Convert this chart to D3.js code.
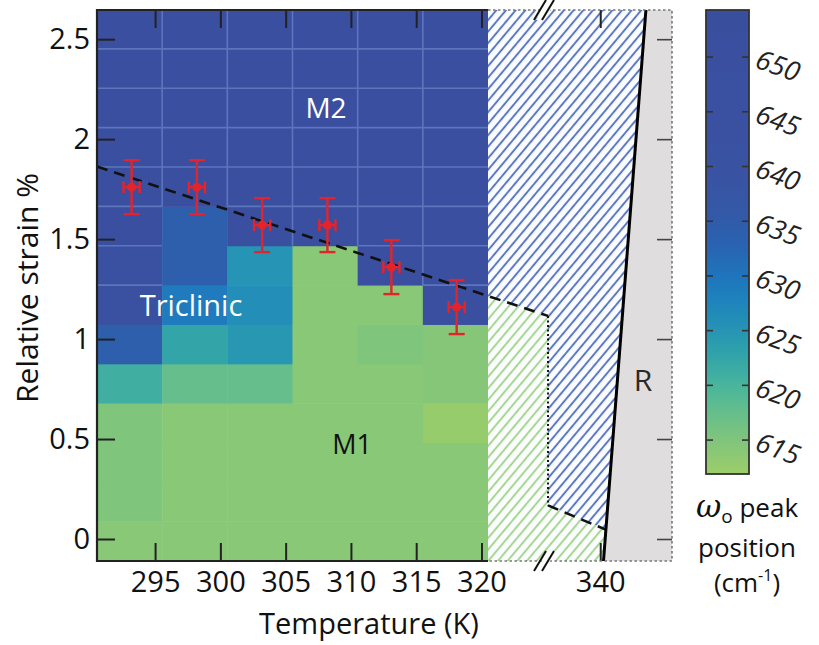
<!DOCTYPE html>
<html>
<head>
<meta charset="utf-8">
<script src="https://cdn.jsdelivr.net/npm/d3@7"></script>
<style>
  body { margin: 0; background: #fff; }
  svg { display: block; font-family: "Open Sans", "Noto Sans", sans-serif; }
</style>
</head>
<body>
<script>
// canvas
const width = 819;
const height = 645;

// data: column temperatures (K) and row strains (%)
const temps = [293.1, 298.1, 303.1, 308.1, 313.1, 318.1];
const strainLevels = [-0.01, 0.19, 0.38, 0.58, 0.78, 0.97, 1.17, 1.37, 1.57, 1.76, 1.96, 2.16, 2.35, 2.55];
const rowStep = 0.197;

// omega_o peak position per column, bottom row -> top row (cm-1)
const omegaT293 = [614, 615, 615, 615, 621, 634, 646, 646, 650, 650, 650, 650, 650, 650];
const omegaT298 = [614, 614, 614, 614, 617.5, 622.5, 629, 634, 634, 650, 650, 650, 650, 650];
const omegaT303 = [614, 614, 614, 614, 617.5, 624.5, 626, 625, 650, 650, 650, 650, 650, 650];
const omegaT308 = [614, 614, 614, 614, 614, 614, 614, 614, 650, 650, 650, 650, 650, 650];
const omegaT313 = [614, 614, 614, 614, 614, 615, 614, 650, 650, 650, 650, 650, 650, 650];
const omegaT318 = [614, 614, 614, 612.5, 614.5, 614.5, 650, 650, 650, 650, 650, 650, 650, 650];
const omegaColumns = [omegaT293, omegaT298, omegaT303, omegaT308, omegaT313, omegaT318];

// transition points with error bars
const pointT = [293.2, 298.2, 303.2, 308.2, 313.1, 318.1];
const pointS = [1.76, 1.76, 1.57, 1.57, 1.36, 1.16];
const pointErrS = [0.135, 0.135, 0.135, 0.135, 0.135, 0.135];
const pointErrT = [0.62, 0.62, 0.62, 0.62, 0.62, 0.62];

// phase boundaries
const upperLineT = [290.55, 336.0];
const upperLineS = [1.863, 1.116];
const dottedLineT = [336.0, 336.0];
const dottedLineS = [1.116, 0.168];
const lowerLineT = [336.0, 340.42];
const lowerLineS = [0.168, 0.047];
const rLineT = [340.25, 343.5];
const rLineS = [-0.11, 2.646];

// ticks
const xTicks = [295, 300, 305, 310, 315, 320];
const xTicks2 = [340];
const yTicks = [0, 0.5, 1, 1.5, 2, 2.5];
const cbTicks = [615, 620, 625, 630, 635, 640, 645, 650];

// colour map stops
const cmapStops = [612, 615, 618, 620, 623, 625, 628, 630, 633, 636, 640, 654.3];
const cmapColors = ['#9ccd6a', '#80c57c', '#60bd8e', '#48b59c', '#2fa2aa', '#2694b4',
  '#1e82bd', '#1f74bc', '#2a62b0', '#3458a6', '#3a52a2', '#3a4e9e'];

const svg = d3.select('body').append('svg')
  .attr('width', width)
  .attr('height', height);

// scales (broken x axis)
const x1 = d3.scaleLinear().domain([290.55, 320.5]).range([97, 488]);
const x2 = d3.scaleLinear().domain([331.4, 345.5]).range([488, 672]);
const xPos = t => (t <= 325 ? x1(t) : x2(t));
const y = d3.scaleLinear().domain([-0.11, 2.646]).range([561, 10]);
const color = d3.scaleLinear().domain(cmapStops).range(cmapColors).interpolate(d3.interpolateRgb);

const xBand = d3.scaleBand().domain(temps).range([x1.range()[0], x1.range()[1]]);
const yBand = d3.scaleBand().domain(strainLevels)
  .range([y(strainLevels[0] - rowStep / 2), y(strainLevels[strainLevels.length - 1] + rowStep / 2)]);

// hatch patterns
const defs = svg.append('defs');
function hatch(id, col) {
  const p = defs.append('pattern')
    .attr('id', id)
    .attr('patternUnits', 'userSpaceOnUse')
    .attr('width', 7.4).attr('height', 20)
    .attr('patternTransform', 'rotate(40)');
  p.append('rect').attr('width', 7.4).attr('height', 20).attr('fill', '#fbfcfe');
  p.append('line').attr('x1', 2).attr('y1', 0).attr('x2', 2).attr('y2', 20)
    .attr('stroke', col).attr('stroke-width', 1.8);
}
hatch('hatchBlue', '#4d6cbf');
hatch('hatchGreen', '#9fd386');

// heatmap cells
const cells = [];
temps.forEach((t, i) => {
  strainLevels.forEach((s, j) => {
    cells.push({ t: t, s: s, i: i, j: j, v: omegaColumns[i][j] });
  });
});

svg.append('g').selectAll('rect')
  .data(cells)
  .enter().append('rect')
  .attr('x', d => xBand(d.t))
  .attr('y', d => yBand(d.s))
  .attr('width', xBand.bandwidth() + 0.5)
  .attr('height', yBand.bandwidth() + 0.5)
  .attr('fill', d => color(d.v));

// faint grid between the blue (M2) cells
const isBlue = (i, j) => omegaColumns[i] && omegaColumns[i][j] >= 645;
const gridLines = [];
cells.forEach(d => {
  if (!isBlue(d.i, d.j)) return;
  const x0 = xBand(d.t), xr = x0 + xBand.bandwidth();
  const yt = yBand(d.s), yb = yt + yBand.bandwidth();
  if (isBlue(d.i + 1, d.j)) gridLines.push([xr, yt, xr, yb]);
  if (d.j + 1 < strainLevels.length && isBlue(d.i, d.j + 1)) gridLines.push([x0, yt, xr, yt]);
});
svg.append('g').selectAll('line')
  .data(gridLines)
  .enter().append('line')
  .attr('x1', d => d[0]).attr('y1', d => d[1])
  .attr('x2', d => d[2]).attr('y2', d => d[3])
  .attr('stroke', '#5c76bd')
  .attr('stroke-width', 1.6);

// right-hand regions: hatched M2 / M1 and grey R
const line = d3.line().x(d => xPos(d[0])).y(d => y(d[1]));
const yTop = y.domain()[1], yBot = y.domain()[0];

const blueRegion = [
  [320.5, yTop], [rLineT[1], yTop], [rLineT[0] + (rLineT[1] - rLineT[0]) * ((lowerLineS[1] - yBot) / (yTop - yBot)), lowerLineS[1]],
  [lowerLineT[0], lowerLineS[0]], [dottedLineT[0], dottedLineS[0]],
  [320.5, upperLineS[0] + (upperLineS[1] - upperLineS[0]) * ((x1(320.5) - x1(upperLineT[0])) / (x2(upperLineT[1]) - x1(upperLineT[0])))]
];
const greenRegion = [
  blueRegion[5], [dottedLineT[0], dottedLineS[0]], [lowerLineT[0], lowerLineS[0]],
  blueRegion[2], [rLineT[0], yBot], [320.5, yBot]
];
const greyRegion = [[rLineT[1], yTop], [345.5, yTop], [345.5, yBot], [rLineT[0], yBot]];

// the 320.5 point belongs to the first segment
const regionLine = d3.line()
  .x(d => (d[0] === 320.5 ? x1(320.5) : xPos(d[0])))
  .y(d => y(d[1]));

svg.append('path').attr('d', regionLine(blueRegion) + 'Z').attr('fill', 'url(#hatchBlue)');
svg.append('path').attr('d', regionLine(greenRegion) + 'Z').attr('fill', 'url(#hatchGreen)');
svg.append('path').attr('d', regionLine(greyRegion) + 'Z').attr('fill', '#dfdddd');

// phase boundary lines
svg.append('path')
  .attr('d', line(upperLineT.map((t, i) => [t, upperLineS[i]])))
  .attr('fill', 'none').attr('stroke', '#111').attr('stroke-width', 2.6)
  .attr('stroke-dasharray', '11,7');
svg.append('path')
  .attr('d', line(lowerLineT.map((t, i) => [t, lowerLineS[i]])))
  .attr('fill', 'none').attr('stroke', '#111').attr('stroke-width', 2.6)
  .attr('stroke-dasharray', '11,7');
svg.append('path')
  .attr('d', line(dottedLineT.map((t, i) => [t, dottedLineS[i]])))
  .attr('fill', 'none').attr('stroke', '#111').attr('stroke-width', 2)
  .attr('stroke-dasharray', '2,2.5');
svg.append('path')
  .attr('d', line(rLineT.map((t, i) => [t, rLineS[i]])))
  .attr('fill', 'none').attr('stroke', '#000').attr('stroke-width', 3);

// axes
const axisStyle = g => {
  g.select('.domain').remove();
  g.selectAll('.tick line').attr('stroke', '#222').attr('stroke-width', 2);
  g.selectAll('.tick text').attr('fill', '#111').style('font-size', '29px')
    .style('font-family', '"Open Sans", sans-serif');
};

svg.append('g')
  .attr('transform', 'translate(0,' + y(yBot) + ')')
  .call(d3.axisBottom(x1).tickValues(xTicks).tickSizeInner(-18).tickSizeOuter(0).tickPadding(10))
  .call(axisStyle);
svg.append('g')
  .attr('transform', 'translate(0,' + y(yBot) + ')')
  .call(d3.axisBottom(x2).tickValues(xTicks2).tickSizeInner(-18).tickSizeOuter(0).tickPadding(10))
  .call(axisStyle);
svg.append('g')
  .attr('transform', 'translate(0,' + y(yTop) + ')')
  .call(d3.axisTop(x1).tickValues(xTicks).tickSizeInner(-18).tickSizeOuter(0).tickFormat(''))
  .call(axisStyle);
svg.append('g')
  .attr('transform', 'translate(0,' + y(yTop) + ')')
  .call(d3.axisTop(x2).tickValues(xTicks2).tickSizeInner(-18).tickSizeOuter(0).tickFormat(''))
  .call(axisStyle);
svg.append('g')
  .attr('transform', 'translate(' + x1.range()[0] + ',0)')
  .call(d3.axisLeft(y).tickValues(yTicks).tickFormat(d3.format('')).tickSizeInner(-18).tickSizeOuter(0).tickPadding(7))
  .call(axisStyle);
svg.append('g')
  .attr('transform', 'translate(' + x2.range()[1] + ',0)')
  .call(d3.axisRight(y).tickValues(yTicks).tickSizeInner(-15).tickSizeOuter(0).tickFormat(''))
  .call(g => {
    g.select('.domain').remove();
    g.selectAll('.tick line').attr('stroke', '#444').attr('stroke-width', 1.6);
  });

// frame: solid around the heatmap, dotted around the right part
const xl = x1.range()[0], xm = x1.range()[1], xr = x2.range()[1];
svg.append('path')
  .attr('d', 'M' + xm + ',' + y(yTop) + 'H' + xl + 'V' + y(yBot) + 'H' + xm)
  .attr('fill', 'none').attr('stroke', '#222').attr('stroke-width', 2.2);
svg.append('path')
  .attr('d', 'M' + xm + ',' + y(yTop) + 'H' + xr + 'V' + y(yBot) + 'H' + xm)
  .attr('fill', 'none').attr('stroke', '#777').attr('stroke-width', 1.6)
  .attr('stroke-dasharray', '2.5,2.5');

// axis break marks
[y(yTop), y(yBot)].forEach(yy => {
  const g = svg.append('g').attr('transform', 'translate(544,' + yy + ')');
  g.append('polygon').attr('points', '-8,10 4,-10 12,-10 0,10').attr('fill', '#fff');
  [-4, 4].forEach(dx => {
    g.append('line')
      .attr('x1', dx - 6).attr('y1', 10).attr('x2', dx + 6).attr('y2', -10)
      .attr('stroke', '#111').attr('stroke-width', 2);
  });
});

// error bars and points
const red = '#e5232b';
const pts = pointT.map((t, i) => ({ t: t, s: pointS[i], es: pointErrS[i], et: pointErrT[i] }));
const eg = svg.append('g').attr('stroke', red).attr('stroke-width', 2.4).attr('fill', 'none');
pts.forEach(d => {
  const cx = x1(d.t), cy = y(d.s);
  const yt = y(d.s + d.es), yb = y(d.s - d.es);
  const xa = x1(d.t - d.et), xb = x1(d.t + d.et);
  eg.append('line').attr('x1', cx).attr('x2', cx).attr('y1', yt).attr('y2', yb);
  eg.append('line').attr('x1', cx - 8).attr('x2', cx + 8).attr('y1', yt).attr('y2', yt);
  eg.append('line').attr('x1', cx - 8).attr('x2', cx + 8).attr('y1', yb).attr('y2', yb);
  eg.append('line').attr('x1', xa).attr('x2', xb).attr('y1', cy).attr('y2', cy);
  eg.append('line').attr('x1', xa).attr('x2', xa).attr('y1', cy - 6).attr('y2', cy + 6);
  eg.append('line').attr('x1', xb).attr('x2', xb).attr('y1', cy - 6).attr('y2', cy + 6);
});
svg.append('g').selectAll('circle')
  .data(pts)
  .enter().append('circle')
  .attr('cx', d => x1(d.t))
  .attr('cy', d => y(d.s))
  .attr('r', 4.5)
  .attr('fill', red);

// phase labels
const label = (txt, x, yy, size, fill) => svg.append('text')
  .attr('x', x).attr('y', yy).attr('text-anchor', 'middle')
  .style('font-size', size + 'px').attr('fill', fill).text(txt);
label('M2', 326, 118, 28, '#fff');
label('Triclinic', 191, 316, 29, '#fff');
label('M1', 352, 454, 27, '#111');
label('R', 643, 391, 30, '#2a2a2a');

// axis titles
svg.append('text')
  .attr('x', 369).attr('y', 634).attr('text-anchor', 'middle')
  .style('font-size', '29px').attr('fill', '#111')
  .text('Temperature (K)');
svg.append('text')
  .attr('transform', 'translate(38,288) rotate(-90)')
  .attr('text-anchor', 'middle')
  .style('font-size', '30px').attr('fill', '#111')
  .text('Relative strain %');

// colour bar
const cbX = 706, cbW = 43;
const cbY = d3.scaleLinear().domain([611.9, 654.3]).range([474, 10]);
const grad = defs.append('linearGradient')
  .attr('id', 'cbGrad')
  .attr('x1', 0).attr('y1', 1).attr('x2', 0).attr('y2', 0);
d3.range(0, 1.0001, 0.02).forEach(f => {
  const v = cbY.domain()[0] + f * (cbY.domain()[1] - cbY.domain()[0]);
  grad.append('stop').attr('offset', f).attr('stop-color', color(v));
});
svg.append('rect')
  .attr('x', cbX).attr('y', cbY.range()[1])
  .attr('width', cbW).attr('height', cbY.range()[0] - cbY.range()[1])
  .attr('fill', 'url(#cbGrad)')
  .attr('stroke', '#333').attr('stroke-width', 1.8);
const cbt = svg.append('g').attr('stroke', '#333').attr('stroke-width', 1.6);
cbTicks.forEach(v => {
  cbt.append('line').attr('x1', cbX).attr('x2', cbX + 7).attr('y1', cbY(v)).attr('y2', cbY(v));
  cbt.append('line').attr('x1', cbX + cbW - 7).attr('x2', cbX + cbW).attr('y1', cbY(v)).attr('y2', cbY(v));
});
svg.append('g').selectAll('text')
  .data(cbTicks)
  .enter().append('text')
  .attr('transform', d => 'translate(757,' + (cbY(d) + 1) + ') rotate(20)')
  .attr('dy', '0.35em')
  .style('font-size', '27px').style('font-style', 'italic')
  .attr('fill', '#222')
  .text(d => d);

// colour bar title
const ct = svg.append('text').attr('text-anchor', 'middle')
  .style('font-size', '26px').attr('fill', '#111');
const l1 = ct.append('tspan').attr('x', 747).attr('y', 517);
l1.append('tspan').style('font-family', '"DejaVu Serif", "Liberation Serif", serif')
  .style('font-style', 'italic').style('font-size', '31px').text('ω');
l1.append('tspan').attr('dy', 6).style('font-size', '19px').text('o');
l1.append('tspan').attr('dy', -6).text(' peak');
ct.append('tspan').attr('x', 747).attr('y', 557).text('position');
const l3 = ct.append('tspan').attr('x', 747).attr('y', 592);
l3.append('tspan').text('(cm');
l3.append('tspan').attr('dy', -11).style('font-size', '16px').text('-1');
l3.append('tspan').attr('dy', 11).text(')');
</script>
</body>
</html>
